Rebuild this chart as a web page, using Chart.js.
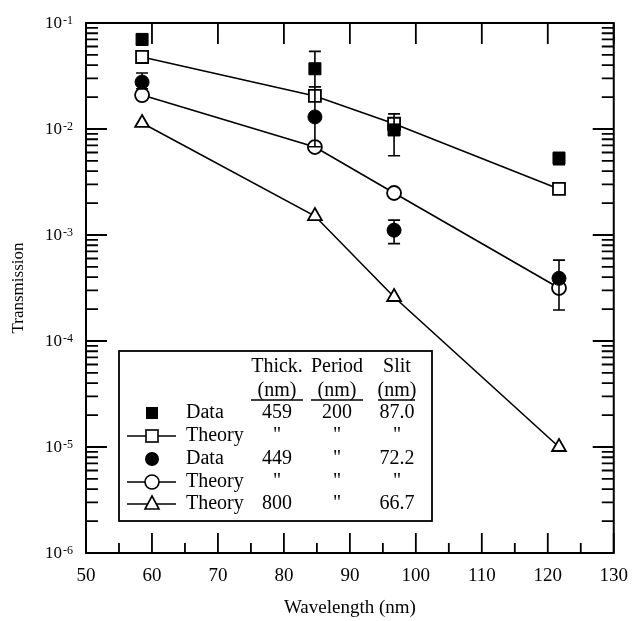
<!DOCTYPE html>
<html><head><meta charset="utf-8">
<script src="https://cdn.jsdelivr.net/npm/chart.js@4"></script>
<style>html,body{margin:0;padding:0;background:#fff}</style>
</head><body>
<canvas id="c" width="640" height="621" style="display:block;width:640px;height:621px"></canvas>
<script>
// ---- data ----
const wavelengths   = [58.5, 84.7, 96.7, 121.7];
const data459       = [0.070, 0.037, 0.0098, 0.0053];
const data459Low    = [0.062, 0.025, 0.0056, 0.0046];
const data459High   = [0.078, 0.054, 0.0139, 0.0060];
const theory459     = [0.0478, 0.0205, 0.0112, 0.00272];
const data449       = [0.0277, 0.0130, 0.00111, 0.00039];
const data449Low    = [0.024, 0.0068, 0.00083, 0.000196];
const data449High   = [0.0337, 0.025, 0.00138, 0.00058];
const theory449     = [0.0209, 0.00676, 0.00249, 0.000316];
const theory800     = [0.0114, 0.00151, 0.00026, 0.0000100];

const xTickValues   = [50, 60, 70, 80, 90, 100, 110, 120, 130];
const yTickExponents = [-1, -2, -3, -4, -5, -6];
const xTitle = 'Wavelength (nm)';
const yTitle = 'Transmission';

const legendHeaders = ['Thick.', 'Period', 'Slit'];
const legendUnits   = ['(nm)', '(nm)', '(nm)'];
const legendLabels  = ['Data', 'Theory', 'Data', 'Theory', 'Theory'];
const legendThick   = ['459', '"', '449', '"', '800'];
const legendPeriod  = ['200', '"', '"', '"', '"'];
const legendSlit    = ['87.0', '"', '72.2', '"', '66.7'];

const SERIF = '"Liberation Serif", "Times New Roman", serif';
const pts = arr => wavelengths.map((x, i) => ({x, y: arr[i]}));

const framePlugin = {
  id: 'frame',
  afterDatasetsDraw(chart) {
    const ctx = chart.ctx, xs = chart.scales.x, ys = chart.scales.y;
    // error bars
    ctx.save();
    ctx.strokeStyle = '#000'; ctx.lineWidth = 1.6;
    const bars = [[data459Low, data459High], [data449Low, data449High]];
    bars.forEach(([lo, hi]) => {
      wavelengths.forEach((w, i) => {
        const x = xs.getPixelForValue(w);
        const y1 = ys.getPixelForValue(lo[i]), y2 = ys.getPixelForValue(hi[i]);
        ctx.beginPath();
        ctx.moveTo(x, y1); ctx.lineTo(x, y2);
        ctx.moveTo(x - 6, y1); ctx.lineTo(x + 6, y1);
        ctx.moveTo(x - 6, y2); ctx.lineTo(x + 6, y2);
        ctx.stroke();
      });
    });
    ctx.restore();
  },
  afterDraw(chart) {
    const ctx = chart.ctx, xs = chart.scales.x, ys = chart.scales.y;
    const a = chart.chartArea;
    ctx.save();
    ctx.strokeStyle = '#000';
    ctx.lineWidth = 2;
    ctx.strokeRect(a.left, a.top, a.right - a.left, a.bottom - a.top);
    ctx.lineWidth = 1.8;
    ctx.beginPath();
    // y ticks on left and right (inward)
    for (let e = -6; e <= -1; e++) {
      const base = Math.pow(10, e);
      const yM = ys.getPixelForValue(base);
      ctx.moveTo(a.left, yM); ctx.lineTo(a.left + 21, yM);
      ctx.moveTo(a.right, yM); ctx.lineTo(a.right - 21, yM);
      if (e < -1) {
        for (let k = 2; k <= 9; k++) {
          const y = ys.getPixelForValue(k * base);
          ctx.moveTo(a.left, y); ctx.lineTo(a.left + 12, y);
          ctx.moveTo(a.right, y); ctx.lineTo(a.right - 12, y);
        }
      }
    }
    // x ticks bottom (major + minor) and top (major)
    xTickValues.forEach(v => {
      const x = xs.getPixelForValue(v);
      ctx.moveTo(x, a.bottom); ctx.lineTo(x, a.bottom - 20);
      ctx.moveTo(x, a.top); ctx.lineTo(x, a.top + 21);
      if (v < 130) {
        const xm = xs.getPixelForValue(v + 5);
        ctx.moveTo(xm, a.bottom); ctx.lineTo(xm, a.bottom - 10);
      }
    });
    ctx.stroke();

    // y tick labels 10^e
    ctx.fillStyle = '#000';
    yTickExponents.forEach(e => {
      const y = ys.getPixelForValue(Math.pow(10, e));
      ctx.font = '17px ' + SERIF;
      ctx.textAlign = 'right'; ctx.textBaseline = 'middle';
      ctx.fillText('10', 62, y + 1);
      ctx.font = '12px ' + SERIF;
      ctx.textAlign = 'left'; ctx.textBaseline = 'top';
      ctx.fillText(String(e), 63, y - 8);
    });

    // legend box
    const L = {x: 119, y: 351, w: 313, h: 170};
    ctx.fillStyle = '#fff';
    ctx.fillRect(L.x, L.y, L.w, L.h);
    ctx.lineWidth = 1.8;
    ctx.strokeRect(L.x, L.y, L.w, L.h);
    ctx.fillStyle = '#000';
    ctx.font = '20px ' + SERIF;
    ctx.textBaseline = 'middle';
    const colX = [277, 337, 397];
    const ulines = [[251, 303], [311, 363], [378, 415]];
    ctx.textAlign = 'center';
    legendHeaders.forEach((h, i) => ctx.fillText(h, colX[i], 367));
    legendUnits.forEach((u, i) => ctx.fillText(u, colX[i], 391));
    ctx.lineWidth = 1.3;
    ctx.beginPath();
    ulines.forEach(([x1, x2]) => { ctx.moveTo(x1, 400); ctx.lineTo(x2, 400); });
    ctx.stroke();
    const rowY = [413, 436, 459, 482, 504];
    legendLabels.forEach((lab, i) => {
      ctx.textAlign = 'left';
      ctx.fillText(lab, 186, rowY[i]);
      ctx.textAlign = 'center';
      ctx.fillText(legendThick[i], colX[0], rowY[i]);
      ctx.fillText(legendPeriod[i], colX[1], rowY[i]);
      ctx.fillText(legendSlit[i], colX[2], rowY[i]);
    });
    // legend symbols
    const sx = 152;
    ctx.lineWidth = 1.6;
    const withLine = y => { ctx.beginPath(); ctx.moveTo(127, y); ctx.lineTo(176, y); ctx.stroke(); };
    // row 0 filled square
    ctx.fillRect(sx - 6, rowY[0] - 6, 12, 12);
    // row 1 open square
    withLine(rowY[1]);
    ctx.fillStyle = '#fff'; ctx.fillRect(sx - 6, rowY[1] - 6, 12, 12);
    ctx.strokeRect(sx - 6, rowY[1] - 6, 12, 12);
    ctx.fillStyle = '#000';
    // row 2 filled circle
    ctx.beginPath(); ctx.arc(sx, rowY[2], 7, 0, Math.PI * 2); ctx.fill();
    // row 3 open circle
    withLine(rowY[3]);
    ctx.beginPath(); ctx.arc(sx, rowY[3], 7, 0, Math.PI * 2);
    ctx.fillStyle = '#fff'; ctx.fill(); ctx.stroke(); ctx.fillStyle = '#000';
    // row 4 open triangle
    withLine(rowY[4]);
    ctx.beginPath();
    ctx.moveTo(sx, rowY[4] - 8); ctx.lineTo(sx + 7, rowY[4] + 5); ctx.lineTo(sx - 7, rowY[4] + 5); ctx.closePath();
    ctx.fillStyle = '#fff'; ctx.fill(); ctx.stroke();
    ctx.restore();
  }
};

new Chart(document.getElementById('c'), {
  type: 'scatter',
  data: {
    datasets: [
      {label: 'Data 459', data: pts(data459), showLine: false, pointStyle: 'rect', pointRadius: 8.5,
       backgroundColor: '#000', borderColor: '#000', pointBorderWidth: 1, order: 0},
      {label: 'Data 449', data: pts(data449), showLine: false, pointStyle: 'circle', pointRadius: 7,
       backgroundColor: '#000', borderColor: '#000', pointBorderWidth: 1, order: 0},
      {label: 'Theory 459', data: pts(theory459), showLine: true, pointStyle: 'rect', pointRadius: 8.5,
       backgroundColor: '#fff', borderColor: '#000', borderWidth: 1.6, pointBorderWidth: 1.8, order: 1},
      {label: 'Theory 449', data: pts(theory449), showLine: true, pointStyle: 'circle', pointRadius: 7,
       backgroundColor: '#fff', borderColor: '#000', borderWidth: 1.6, pointBorderWidth: 1.8, order: 1},
      {label: 'Theory 800', data: pts(theory800), showLine: true, pointStyle: 'triangle', pointRadius: 8,
       backgroundColor: '#fff', borderColor: '#000', borderWidth: 1.6, pointBorderWidth: 1.8, order: 1}
    ]
  },
  options: {
    responsive: false,
    animation: false,
    devicePixelRatio: 1,
    layout: {padding: {left: 0, top: 23, right: 16, bottom: 0}, autoPadding: false},
    plugins: {legend: {display: false}, tooltip: {enabled: false}},
    scales: {
      x: {
        type: 'linear', min: 50, max: 130,
        afterBuildTicks: s => { s.ticks = xTickValues.map(v => ({value: v})); },
        ticks: {color: '#000', font: {family: SERIF, size: 19}, padding: 12, maxRotation: 0, autoSkip: false},
        grid: {display: false, drawTicks: false},
        border: {display: false},
        title: {display: true, text: xTitle, color: '#000', font: {family: SERIF, size: 19}, padding: {top: 0, bottom: 2}},
        afterFit: s => { s.height = 621 - 553; }
      },
      y: {
        type: 'logarithmic', min: 1e-6, max: 1e-1,
        ticks: {display: false},
        grid: {display: false, drawTicks: false},
        border: {display: false},
        title: {display: true, text: yTitle, color: '#000', font: {family: SERIF, size: 17}, padding: {top: 8, bottom: 0}},
        afterFit: s => { s.width = 86; }
      }
    }
  },
  plugins: [framePlugin]
});
</script>
</body></html>
